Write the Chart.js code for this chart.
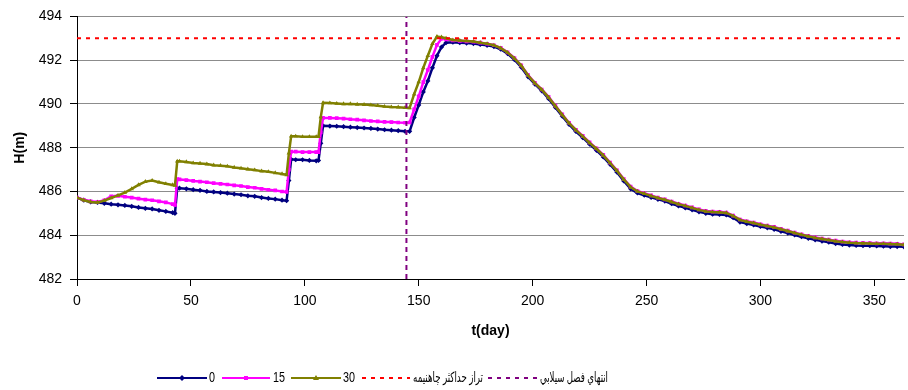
<!DOCTYPE html>
<html>
<head>
<meta charset="utf-8">
<script src="https://cdn.jsdelivr.net/npm/chart.js@4.4.1/dist/chart.umd.min.js"></script>
<style>
  body { margin: 0; background: #fff; }
  #wrap { width: 908px; height: 390px; }
</style>
</head>
<body>
<div id="wrap"><canvas id="levelChart" width="908" height="390"></canvas></div>
<script>
// Reservoir level H(m) against time t(day), three scenarios
const days = [
  0, 3, 6, 9, 12, 15, 18, 21, 24, 27, 30, 33, 36, 39, 42, 43,
  44, 45, 48, 51, 54, 57, 60, 63, 66, 69, 72, 75, 78, 81, 84, 87, 90, 92,
  93,
  94, 96, 99, 102, 105, 106,
  107,
  108, 111, 114, 117, 120, 123, 126, 129, 132, 135, 138, 141, 144,
  146, 148, 150, 152, 154, 156, 158, 160,
  162, 165, 168, 171, 174, 177, 180, 183, 186, 189, 192, 195, 198, 201, 204, 207,
  210, 213, 216, 219, 222, 225, 228, 231, 234, 237, 240, 243, 246, 249, 252, 255, 258,
  261, 264, 267, 270, 273, 276, 279, 282, 285, 288, 291, 294, 297, 300, 303, 306,
  309, 312, 315, 318, 321, 324, 327, 330, 333, 336, 339, 342, 345, 348, 351, 354,
  357, 360, 363
];

const level0 = [
  485.72, 485.6, 485.52, 485.5, 485.46, 485.42, 485.39, 485.36, 485.32, 485.27, 485.23, 485.2, 485.14, 485.09, 485.03, 485.0,
  486.15, 486.15, 486.12, 486.08, 486.05, 486.0, 485.98, 485.95, 485.92, 485.88, 485.85, 485.8, 485.78, 485.72, 485.68, 485.65, 485.6, 485.58,
  486.5,
  487.47, 487.45, 487.45, 487.42, 487.4, 487.42,
  488.2,
  489.0, 488.99, 488.98, 488.96, 488.94, 488.92, 488.9, 488.88, 488.85, 488.82, 488.8, 488.78, 488.75,
  488.75, 489.38, 489.95, 490.55, 491.05, 491.65, 492.2, 492.6,
  492.8, 492.82, 492.8, 492.78, 492.76, 492.72, 492.68, 492.62, 492.5, 492.3, 492.02, 491.68, 491.24, 490.9, 490.6, 490.24,
  489.84, 489.44, 489.06, 488.74, 488.46, 488.16, 487.88, 487.58, 487.24, 486.88, 486.48, 486.12, 485.93, 485.83, 485.73, 485.64, 485.56,
  485.44, 485.34, 485.25, 485.16, 485.07, 485.0, 484.96, 484.95, 484.93, 484.8, 484.6, 484.53, 484.47, 484.4, 484.34, 484.27,
  484.18, 484.1, 484.01, 483.93, 483.86, 483.79, 483.73, 483.68, 483.62, 483.58, 483.55, 483.53, 483.52, 483.52, 483.51, 483.5,
  483.48, 483.48, 483.47
];

const level15 = [
  485.72, 485.62, 485.55, 485.52, 485.6, 485.78, 485.8, 485.76, 485.72, 485.67, 485.63, 485.6, 485.55, 485.5, 485.42, 485.38,
  486.56, 486.55, 486.52, 486.48, 486.45, 486.42, 486.38, 486.35, 486.32, 486.28, 486.25, 486.2, 486.17, 486.12, 486.08, 486.05, 486.0, 485.98,
  487.0,
  487.82, 487.82, 487.8, 487.8, 487.8, 487.8,
  488.7,
  489.36, 489.36, 489.35, 489.33, 489.3, 489.28, 489.25, 489.22, 489.2, 489.18, 489.17, 489.15, 489.14,
  489.15, 489.75, 490.35, 491.0, 491.55, 492.15, 492.7, 492.98,
  492.95, 492.9, 492.88, 492.86, 492.84, 492.8, 492.75, 492.68, 492.56, 492.36, 492.1, 491.76, 491.32, 490.96, 490.66, 490.32,
  489.92, 489.52, 489.14, 488.82, 488.54, 488.24, 487.97, 487.67, 487.32, 486.97, 486.57, 486.22, 486.02, 485.92, 485.82, 485.72, 485.64,
  485.54, 485.44, 485.36, 485.27, 485.18, 485.11, 485.08, 485.07, 485.04, 484.9, 484.72, 484.64, 484.58, 484.5, 484.44, 484.38,
  484.29, 484.21, 484.12, 484.04, 483.97, 483.9, 483.85, 483.8, 483.75, 483.71, 483.68, 483.66, 483.65, 483.64, 483.63, 483.63,
  483.62, 483.61, 483.58
];

const level30 = [
  485.72, 485.6, 485.52, 485.5, 485.58, 485.7, 485.82, 485.95, 486.12, 486.3, 486.45, 486.5, 486.42, 486.35, 486.3, 486.28,
  487.38, 487.38, 487.35, 487.3, 487.28, 487.25, 487.2, 487.18, 487.15, 487.1, 487.06, 487.02, 486.98, 486.93, 486.9, 486.85, 486.8, 486.76,
  487.75,
  488.52, 488.52, 488.5, 488.5, 488.5, 488.5,
  489.4,
  490.05, 490.04, 490.02, 490.0, 490.0, 489.98, 489.97, 489.95, 489.92, 489.88, 489.86, 489.85, 489.83,
  489.82, 490.45, 491.0, 491.65, 492.2, 492.75, 493.08, 493.05,
  493.0, 492.92, 492.9, 492.88, 492.85, 492.8, 492.75, 492.68, 492.55, 492.35, 492.08, 491.75, 491.3, 490.95, 490.65, 490.3,
  489.9, 489.5, 489.12, 488.8, 488.52, 488.22, 487.95, 487.65, 487.3, 486.95, 486.55, 486.2, 486.0, 485.9, 485.8, 485.7, 485.62,
  485.52, 485.42, 485.34, 485.25, 485.16, 485.09, 485.06, 485.05, 485.02, 484.88, 484.7, 484.62, 484.56, 484.48, 484.42, 484.36,
  484.27, 484.19, 484.1, 484.02, 483.95, 483.88, 483.83, 483.78, 483.73, 483.69, 483.66, 483.64, 483.63, 483.62, 483.61, 483.61,
  483.6, 483.59, 483.56
];

const maxLevel = 493;        // red dashed: maximum level of the reservoir
const floodEndDay = 144.6;   // purple dashed: end of the flood season
const yMin = 482, yMax = 494, yStep = 2;
const xMin = 0, xMax = 363, xStep = 50;

const seriesNames = ['0', '15', '30'];
const refNames = ['تراز حداکثر چاهنیمه', 'انتهاي فصل سيلابي'];

const toPoints = vals => days.map((d, i) => ({ x: d, y: vals[i] }));

const FONT = "'Liberation Sans', Arial, 'DejaVu Sans', sans-serif";
Chart.defaults.font.family = FONT;
Chart.defaults.color = '#000';

// legend drawn under the plot, like the original
const bottomLegend = {
  id: 'bottomLegend',
  afterDraw(chart) {
    const ctx = chart.ctx;
    const y = 378;
    ctx.save();
    ctx.font = '14px ' + FONT;
    ctx.textBaseline = 'middle';
    ctx.textAlign = 'left';

    const items = [
      { kind: 'line', color: '#000080', marker: 'diamond', x1: 157, x2: 207, tx: 209, tw: 6, text: seriesNames[0] },
      { kind: 'line', color: '#FF00FF', marker: 'square', x1: 222, x2: 270, tx: 273, tw: 12, text: seriesNames[1] },
      { kind: 'line', color: '#808000', marker: 'triangle', x1: 291, x2: 341, tx: 343, tw: 12, text: seriesNames[2] },
      { kind: 'dash', color: '#FF0000', x1: 362, x2: 410, tx: 413, tw: 70, text: refNames[0] },
      { kind: 'dash', color: '#800080', x1: 488, x2: 537, tx: 540, tw: 68, text: refNames[1] }
    ];

    items.forEach(it => {
      ctx.strokeStyle = it.color;
      ctx.fillStyle = it.color;
      ctx.lineWidth = 2;
      ctx.setLineDash(it.kind === 'dash' ? [4, 5] : []);
      ctx.beginPath();
      ctx.moveTo(it.x1, y);
      ctx.lineTo(it.x2, y);
      ctx.stroke();
      ctx.setLineDash([]);
      const cx = (it.x1 + it.x2) / 2;
      if (it.marker === 'diamond') {
        ctx.beginPath();
        ctx.moveTo(cx, y - 3); ctx.lineTo(cx + 3, y); ctx.lineTo(cx, y + 3); ctx.lineTo(cx - 3, y);
        ctx.closePath(); ctx.fill();
      } else if (it.marker === 'square') {
        ctx.fillRect(cx - 2, y - 2, 4, 4);
      } else if (it.marker === 'triangle') {
        ctx.beginPath();
        ctx.moveTo(cx, y - 3); ctx.lineTo(cx + 3, y + 2); ctx.lineTo(cx - 3, y + 2);
        ctx.closePath(); ctx.fill();
      }
      ctx.fillStyle = '#000';
      ctx.fillText(it.text, it.tx, y, it.tw);
    });
    ctx.restore();
  }
};

const seriesStyle = (color, pointStyle, order) => ({
  borderColor: color,
  backgroundColor: color,
  borderWidth: 2.5,
  pointStyle: pointStyle,
  pointRadius: 2.6,
  pointBorderWidth: 0,
  pointBackgroundColor: color,
  tension: 0,
  order: order
});

new Chart(document.getElementById('levelChart'), {
  type: 'line',
  data: {
    datasets: [
      Object.assign({ label: seriesNames[0], data: toPoints(level0) }, seriesStyle('#000080', 'rectRot', 4)),
      Object.assign({ label: seriesNames[1], data: toPoints(level15) }, seriesStyle('#FF00FF', 'rect', 3)),
      Object.assign({ label: seriesNames[2], data: toPoints(level30) }, seriesStyle('#808000', 'triangle', 2)),
      {
        label: refNames[0],
        data: [{ x: xMin, y: maxLevel }, { x: xMax, y: maxLevel }],
        borderColor: '#FF0000',
        borderWidth: 2,
        borderDash: [4, 5],
        pointRadius: 0,
        order: 1
      },
      {
        label: refNames[1],
        data: [{ x: floodEndDay, y: yMin }, { x: floodEndDay, y: yMax }],
        borderColor: '#800080',
        borderWidth: 2,
        borderDash: [5, 4],
        pointRadius: 0,
        order: 0
      }
    ]
  },
  options: {
    responsive: false,
    animation: false,
    layout: { padding: { top: 16, right: 1, bottom: 50, left: 0 } },
    plugins: {
      legend: { display: false },
      tooltip: { enabled: false }
    },
    scales: {
      x: {
        type: 'linear',
        min: xMin,
        max: xMax,
        afterFit: s => { s.height = 61; },
        ticks: { stepSize: xStep, includeBounds: false, padding: 7, font: { size: 14 }, maxRotation: 0 },
        grid: { drawOnChartArea: false, tickLength: 7, tickColor: '#000' },
        border: { color: '#000', width: 1 },
        title: { display: true, text: 't(day)', font: { size: 14, weight: 'bold' }, padding: { top: 7, bottom: 0 } }
      },
      y: {
        min: yMin,
        max: yMax,
        afterFit: s => { s.width = 77; },
        ticks: { stepSize: yStep, padding: 8, font: { size: 14 } },
        grid: { color: '#8c8c8c', lineWidth: 1, tickLength: 7, tickColor: '#000' },
        border: { color: '#000', width: 1 },
        title: { display: true, text: 'H(m)', font: { size: 14, weight: 'bold' }, padding: { top: 12, bottom: 0 } }
      }
    }
  },
  plugins: [bottomLegend]
});
</script>
</body>
</html>
